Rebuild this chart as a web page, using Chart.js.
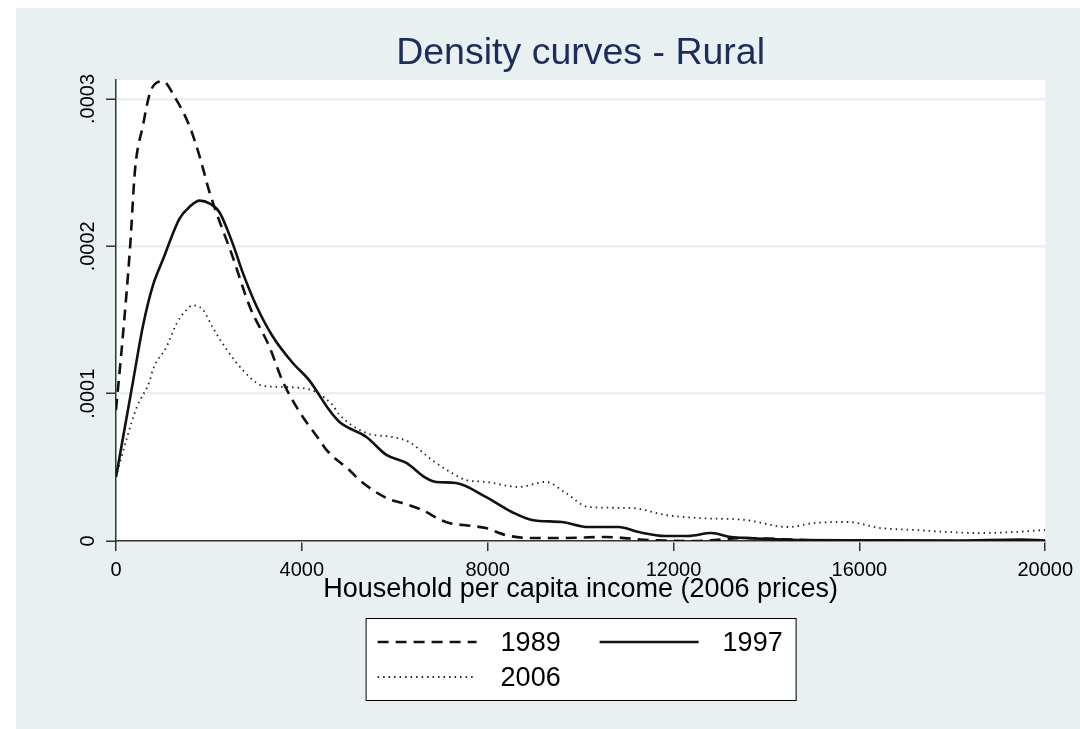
<!DOCTYPE html>
<html>
<head>
<meta charset="utf-8">
<script src="https://cdn.jsdelivr.net/npm/chart.js@4.4.0/dist/chart.umd.min.js"></script>
<style>
  html, body { margin: 0; padding: 0; background: #ffffff; }
  #wrap { position: absolute; left: 0; top: 0; width: 1080px; height: 729px; }
</style>
</head>
<body>
<div id="wrap"><canvas id="c" width="1080" height="729"></canvas></div>
<script>
// ---------- DATA ----------
const chartTitle = 'Density curves - Rural';
const xTitle = 'Household per capita income (2006 prices)';
const seriesLabels = ['1989', '1997', '2006'];

const xTickValues = [0, 4000, 8000, 12000, 16000, 20000];
const yTickValues = [0, 0.0001, 0.0002, 0.0003];
const yTickLabels = ['0', '.0001', '.0002', '.0003'];

// income points and densities (densities in units of 0.0001)
const inc1989 = [0, 150, 300, 410, 580, 730, 870, 1010, 1270, 1590,
  1800, 2020, 2510, 2880, 3300, 3580, 3950, 4380, 4530, 5020,
  5240, 5820, 6310, 6590, 7100, 7660, 7960, 8390, 8950, 9500,
  10540, 11460, 12530, 13500, 15000, 17000, 19000, 20000];
const den1989 = [0.89, 1.40, 1.98, 2.52, 2.82, 3.04, 3.11, 3.12, 3.01, 2.81,
  2.61, 2.36, 1.93, 1.59, 1.32, 1.09, 0.876, 0.686, 0.618, 0.482,
  0.414, 0.292, 0.244, 0.21, 0.129, 0.102, 0.088, 0.04, 0.02, 0.02,
  0.027, 0.007, 0.0, 0.02, 0.005, 0.0, 0.0, 0.0];

const inc1997 = [0, 370, 580, 790, 1010, 1370, 1590, 1800, 2020, 2230,
  2510, 2730, 3030, 3370, 3800, 4160, 4590, 4810, 5390, 5820,
  6250, 6670, 6890, 7320, 7960, 8520, 8950, 9590, 10170, 10820,
  11250, 11820, 12320, 12810, 13240, 13600, 14680, 16000, 18000, 19500,
  20000];
const den1997 = [0.434, 1.09, 1.46, 1.73, 1.91, 2.19, 2.27, 2.31, 2.29, 2.23,
  2.02, 1.82, 1.59, 1.39, 1.21, 1.09, 0.889, 0.808, 0.706, 0.584,
  0.53, 0.428, 0.401, 0.394, 0.299, 0.197, 0.143, 0.129, 0.095, 0.095,
  0.061, 0.034, 0.034, 0.054, 0.027, 0.02, 0.007, 0.005, 0.003, 0.01,
  0.003];

const inc2006 = [0, 240, 450, 730, 790, 1090, 1310, 1520, 1650, 1870,
  2080, 2380, 2730, 3090, 3240, 3950, 4310, 4660, 4800, 5390,
  5940, 6310, 6800, 7230, 7530, 7960, 8670, 9250, 9680, 10170,
  11090, 11820, 12530, 13540, 14460, 15040, 15750, 16460, 17190, 17900,
  18600, 19340, 20000];
const den2006 = [0.434, 0.706, 0.91, 1.09, 1.16, 1.32, 1.48, 1.57, 1.60, 1.57,
  1.45, 1.30, 1.16, 1.06, 1.05, 1.04, 1.01, 0.923, 0.86, 0.733,
  0.706, 0.672, 0.55, 0.462, 0.414, 0.401, 0.367, 0.401, 0.326, 0.231,
  0.224, 0.177, 0.156, 0.143, 0.095, 0.122, 0.129, 0.088, 0.075, 0.061,
  0.054, 0.061, 0.075];

// ---------- build ----------
const UNIT = 0.0001;
const pts = (xs, ys) => xs.map((x, i) => ({ x: x, y: ys[i] * UNIT }));
const FONT = '"Liberation Sans", Arial, Helvetica, sans-serif';
const BG = '#E8F0F2';

const bgPlugin = {
  id: 'bg',
  beforeDraw(chart) {
    const { ctx, chartArea: a } = chart;
    ctx.save();
    ctx.fillStyle = '#ffffff';
    ctx.fillRect(0, 0, chart.width, chart.height);
    ctx.fillStyle = BG;
    ctx.fillRect(16, 8, chart.width - 16, chart.height - 8);
    ctx.fillStyle = '#ffffff';
    ctx.fillRect(a.left, a.top, a.right - a.left, a.bottom - a.top);
    ctx.restore();
  }
};

const yLabelPlugin = {
  id: 'yLabels',
  afterDraw(chart) {
    const ys = chart.scales.y, ctx = chart.ctx;
    ctx.save();
    ctx.font = '20px ' + FONT;
    ctx.fillStyle = '#000';
    ctx.textAlign = 'center';
    ctx.textBaseline = 'middle';
    yTickValues.forEach((v, i) => {
      const py = ys.getPixelForValue(v);
      ctx.save();
      ctx.translate(chart.chartArea.left - 28, py);
      ctx.rotate(-Math.PI / 2);
      ctx.fillText(yTickLabels[i], 0, 0);
      ctx.restore();
    });
    ctx.restore();
  }
};

const legendPlugin = {
  id: 'stataLegend',
  afterDraw(chart) {
    const ctx = chart.ctx, a = chart.chartArea;
    const w = 430, h = 82;
    const bx = (a.left + a.right) / 2 - w / 2, by = 618;
    ctx.save();
    ctx.fillStyle = '#fff';
    ctx.fillRect(bx, by, w, h);
    ctx.strokeStyle = '#000';
    ctx.lineWidth = 1;
    ctx.strokeRect(bx + 0.5, by + 0.5, w, h);
    const slots = [[12, 24], [234, 24], [12, 59]];
    chart.data.datasets.forEach((ds, i) => {
      const [sx, sy] = slots[i];
      ctx.beginPath();
      ctx.setLineDash(ds.borderDash || []);
      ctx.strokeStyle = ds.borderColor;
      ctx.lineWidth = ds.borderWidth;
      ctx.moveTo(bx + sx, by + sy);
      ctx.lineTo(bx + sx + 99, by + sy);
      ctx.stroke();
      ctx.setLineDash([]);
      ctx.fillStyle = '#000';
      ctx.font = '27px ' + FONT;
      ctx.textAlign = 'left';
      ctx.textBaseline = 'middle';
      ctx.fillText(ds.label, bx + sx + 123, by + sy + 2);
    });
    ctx.restore();
  }
};

new Chart(document.getElementById('c'), {
  type: 'line',
  data: {
    datasets: [
      { label: seriesLabels[0], data: pts(inc1989, den1989), borderColor: '#111', borderWidth: 2.6, borderDash: [11, 7], pointRadius: 0, cubicInterpolationMode: 'monotone', fill: false },
      { label: seriesLabels[1], data: pts(inc1997, den1997), borderColor: '#111', borderWidth: 2.6, borderDash: [], pointRadius: 0, cubicInterpolationMode: 'monotone', fill: false },
      { label: seriesLabels[2], data: pts(inc2006, den2006), borderColor: '#222', borderWidth: 1.8, borderDash: [1.5, 4], pointRadius: 0, cubicInterpolationMode: 'monotone', fill: false }
    ]
  },
  options: {
    responsive: false,
    animation: false,
    devicePixelRatio: 1,
    layout: { padding: { top: 8, right: 32, bottom: 123, left: 0 } },
    plugins: {
      legend: { display: false },
      tooltip: { enabled: false },
      title: {
        display: true, text: chartTitle, fullSize: false,
        color: '#1E2C5A', font: { family: FONT, size: 37.5, weight: 'normal' },
        padding: { top: 23.5, bottom: 3.5 }
      }
    },
    scales: {
      x: {
        type: 'linear', min: 0, max: 20000,
        afterBuildTicks: s => { s.ticks = xTickValues.map(v => ({ value: v })); },
        afterFit: s => { s.height = 65; },
        ticks: { color: '#000', font: { family: FONT, size: 20 }, padding: 7, maxRotation: 0, autoSkip: false, callback: v => String(v) },
        grid: { drawOnChartArea: false, drawTicks: true, tickLength: 10, tickColor: '#333', lineWidth: 1.5 },
        border: { color: '#333', width: 1.5 },
        title: { display: true, text: xTitle, color: '#000', font: { family: FONT, size: 27 }, padding: 0 }
      },
      y: {
        type: 'linear', min: 0, max: 0.0003129,
        afterBuildTicks: s => { s.ticks = yTickValues.map(v => ({ value: v })); },
        afterFit: s => { s.width = 116; },
        ticks: { display: false },
        grid: { color: BG, lineWidth: 2.5, drawTicks: true, tickLength: 10, tickColor: '#333', tickWidth: 1.5 },
        border: { color: '#333', width: 1.5 }
      }
    }
  },
  plugins: [bgPlugin, yLabelPlugin, legendPlugin]
});
</script>
</body>
</html>
